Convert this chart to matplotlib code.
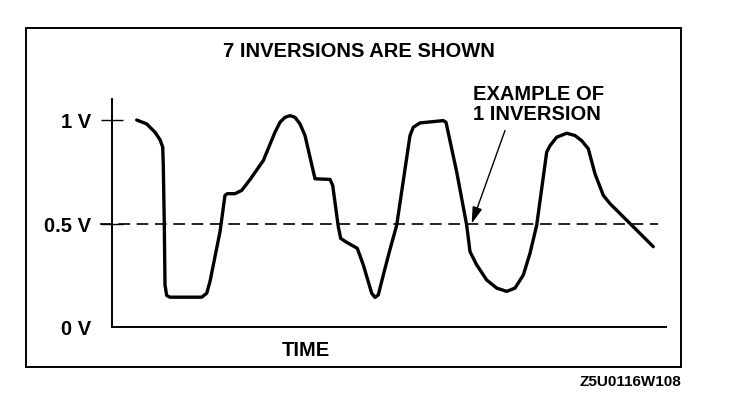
import matplotlib
matplotlib.use("Agg")
import matplotlib.pyplot as plt
from matplotlib.patches import Rectangle

plt.rcParams['font.family'] = ['Liberation Sans', 'DejaVu Sans']

# signal trace (time in arbitrary units, voltage in V)
time = [0.247, 0.347, 0.43, 0.48, 0.507, 0.513, 0.523, 0.53, 0.547, 0.58,
        0.897, 0.947, 0.98, 1.08, 1.13, 1.153, 1.23, 1.297, 1.38, 1.513,
        1.63, 1.68, 1.73, 1.78, 1.83, 1.88, 1.93, 2.03, 2.18, 2.207,
        2.263, 2.287, 2.347, 2.453, 2.513, 2.597, 2.63, 2.663, 2.713, 2.78,
        2.847, 2.98, 3.013, 3.08, 3.313, 3.34, 3.447, 3.547, 3.58, 3.647,
        3.747, 3.847, 3.947, 4.03, 4.113, 4.18, 4.247, 4.347, 4.38, 4.447,
        4.547, 4.63, 4.697, 4.763, 4.83, 4.913, 4.98, 5.18, 5.413]
volts = [1.000, 0.981, 0.941, 0.905, 0.869, 0.780, 0.492, 0.203, 0.152, 0.144,
         0.144, 0.163, 0.220, 0.460, 0.636, 0.644, 0.644, 0.660, 0.712, 0.804,
         0.941, 0.989, 1.013, 1.021, 1.013, 0.981, 0.925, 0.716, 0.713, 0.684,
         0.484, 0.428, 0.409, 0.380, 0.300, 0.163, 0.143, 0.155, 0.251, 0.375,
         0.492, 0.925, 0.965, 0.986, 0.997, 0.989, 0.749, 0.492, 0.364, 0.300,
         0.227, 0.188, 0.172, 0.188, 0.251, 0.356, 0.492, 0.845, 0.876, 0.917,
         0.936, 0.925, 0.900, 0.861, 0.740, 0.636, 0.596, 0.500, 0.388]

ytick_vals = [0, 0.5, 1.0]
ytick_labels = ['0 V', '0.5 V', '1 V']
threshold = 0.5
inversion_point = (3.597, 0.5)
arrow_tail = (3.93, 0.949)

W, H = 736, 406
fig = plt.figure(figsize=(W / 100, H / 100), dpi=100)

def fx(px):
    return px / W

def fy(py):
    return 1 - py / H

# outer frame
fig.add_artist(Rectangle((fx(26), fy(368)), fx(681) - fx(26), fy(29) - fy(368),
                         transform=fig.transFigure, fill=False, lw=1.4, ec='black'))

ax = fig.add_axes([fx(112), fy(328), fx(666) - fx(112), fy(100) - fy(328)])
ax.set_xlim(0, 5.54)
ax.set_ylim(0, 228 / 207)
for s in ['top', 'right']:
    ax.spines[s].set_visible(False)
for s in ['left', 'bottom']:
    ax.spines[s].set_linewidth(1.4)

ax.plot(time, volts, color='black', lw=2.4, solid_joinstyle='round',
        solid_capstyle='round', clip_on=False)

ax.axhline(threshold, xmin=-12 / 554, xmax=546 / 554, color='black', lw=1.2,
           dashes=(7, 4), clip_on=False)

ax.set_xticks([])
ax.set_yticks(ytick_vals)
ax.set_yticklabels(ytick_labels, fontsize=14.5, fontweight='bold')
ax.tick_params(axis='y', direction='inout', length=16.5, width=1.0, pad=7)
ax.yaxis.get_major_ticks()[0].tick1line.set_visible(False)

ax.annotate('', xy=inversion_point, xytext=arrow_tail,
            arrowprops=dict(arrowstyle='-|>,head_length=1.0,head_width=0.3',
                            color='black', lw=1.0, shrinkA=0, shrinkB=0))

txt = dict(fontsize=14.5, fontweight='bold', va='baseline')
fig.text(fx(359), fy(57), '7 INVERSIONS ARE SHOWN', ha='center', **txt)
fig.text(fx(473), fy(100), 'EXAMPLE OF', ha='left', **txt)
fig.text(fx(473), fy(120), '1 INVERSION', ha='left', **txt)
fig.text(fx(306), fy(356), 'TIME', ha='center', **txt)
fig.text(fx(681), fy(386), 'Z5U0116W108', ha='right', va='baseline',
         fontsize=11, fontweight='bold')

fig.savefig('out.png', dpi=100)
